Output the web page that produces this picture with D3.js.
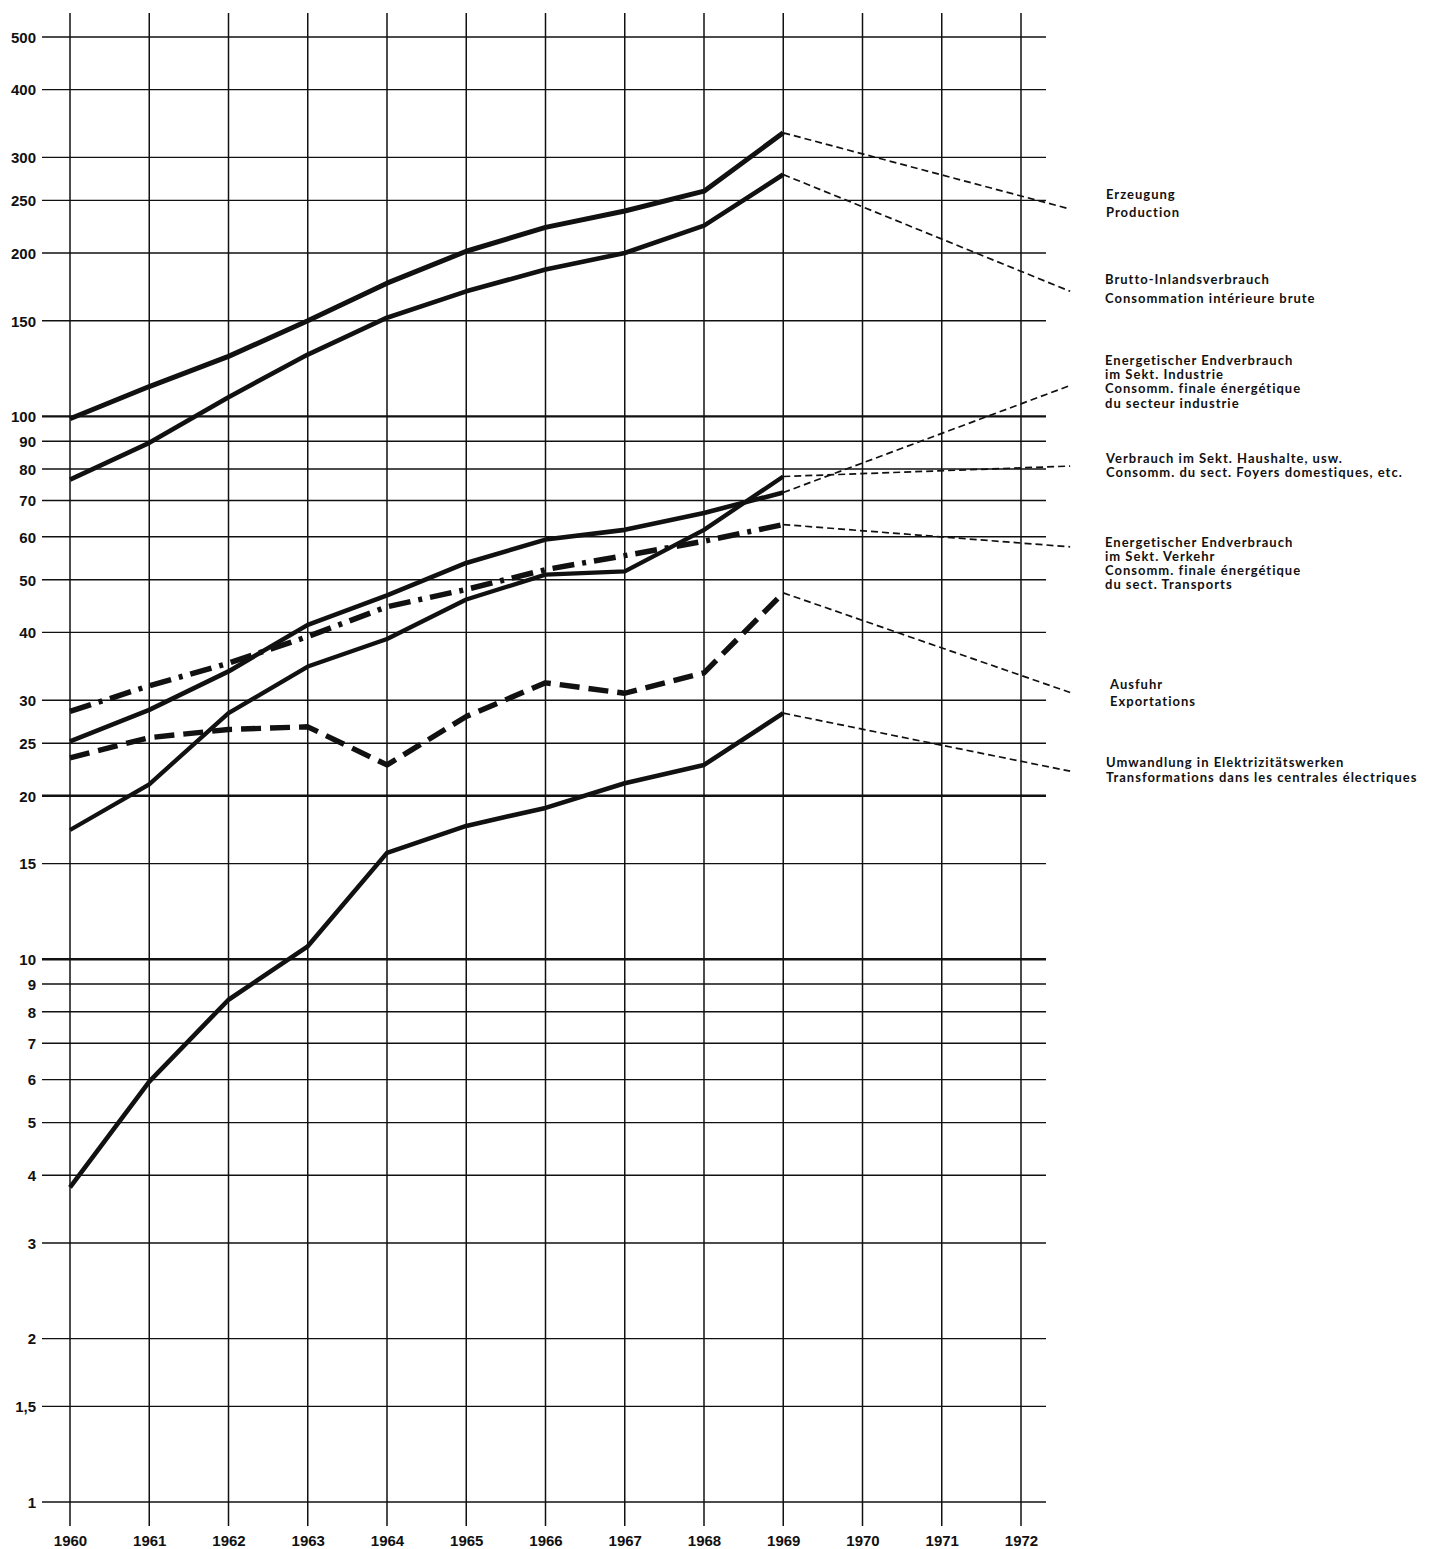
<!DOCTYPE html>
<html>
<head>
<meta charset="utf-8">
<script src="https://cdnjs.cloudflare.com/ajax/libs/d3/7.8.5/d3.min.js"></script>
<style>
  html, body { margin: 0; padding: 0; background: #fff; }
  svg { display: block; }
</style>
</head>
<body>
<svg id="chart" width="1432" height="1549"></svg>
<script>
// ---------------- DATA ----------------
const years = [1960, 1961, 1962, 1963, 1964, 1965, 1966, 1967, 1968, 1969];
const axisYears = [1960, 1961, 1962, 1963, 1964, 1965, 1966, 1967, 1968, 1969, 1970, 1971, 1972];
const yTicks = [1, 1.5, 2, 3, 4, 5, 6, 7, 8, 9, 10, 15, 20, 25, 30, 40, 50, 60, 70, 80, 90, 100, 150, 200, 250, 300, 400, 500];
const yTickLabels = ["1", "1,5", "2", "3", "4", "5", "6", "7", "8", "9", "10", "15", "20", "25", "30", "40", "50", "60", "70", "80", "90", "100", "150", "200", "250", "300", "400", "500"];

const production   = [99, 113.5, 129, 150, 176, 201.5, 223, 239, 260, 333];
const bruttoInland = [76.5, 89.4, 108.5, 130, 152, 170, 186.5, 200, 224.6, 279];
const industrie    = [25.2, 28.8, 33.9, 41.3, 46.8, 53.7, 59.3, 61.8, 66.4, 72.4];
const haushalte    = [17.3, 21.0, 28.4, 34.6, 38.9, 46.0, 51.1, 51.8, 61.8, 77.5];
const verkehr      = [28.6, 31.9, 35.1, 39.3, 44.6, 48.0, 52.2, 55.4, 58.9, 63.2];
const ausfuhr      = [23.5, 25.6, 26.5, 26.8, 22.8, 28.0, 32.3, 30.9, 33.7, 47.3];
const umwandlung   = [3.8, 5.95, 8.42, 10.56, 15.7, 17.6, 19.0, 21.1, 22.8, 28.4];

// projection (dashed) from 1969 to the right edge
const projectionEndYear = 1972.62;
const projectionEnd = [241, 170, 114, 81, 57.5, 31, 22.2];

const seriesNames = ["production", "bruttoInland", "industrie", "haushalte", "verkehr", "ausfuhr", "umwandlung"];
const seriesValues = [production, bruttoInland, industrie, haushalte, verkehr, ausfuhr, umwandlung];
const legendTexts = [
  ["Erzeugung", "Production"],
  ["Brutto-Inlandsverbrauch", "Consommation intérieure brute"],
  ["Energetischer Endverbrauch", "im Sekt. Industrie", "Consomm. finale énergétique", "du secteur industrie"],
  ["Verbrauch im Sekt. Haushalte, usw.", "Consomm. du sect. Foyers domestiques, etc."],
  ["Energetischer Endverbrauch", "im Sekt. Verkehr", "Consomm. finale énergétique", "du sect. Transports"],
  ["Ausfuhr", "Exportations"],
  ["Umwandlung in Elektrizitätswerken", "Transformations dans les centrales électriques"]
];

// ---------------- LAYOUT / STYLE ----------------
const styles = {
  production:   { width: 5, dash: null },
  bruttoInland: { width: 4.6, dash: null },
  industrie:    { width: 4.6, dash: null },
  haushalte:    { width: 4.3, dash: null },
  verkehr:      { width: 5.5, dash: "22,8,4,8" },
  ausfuhr:      { width: 5.4, dash: "20,9" },
  umwandlung:   { width: 4.6, dash: null }
};
const legendLayout = [
  { x: 1106, y: 199, lh: 18 },
  { x: 1105, y: 284, lh: 19 },
  { x: 1105, y: 365, lh: 14.2 },
  { x: 1106, y: 463, lh: 14 },
  { x: 1105, y: 547, lh: 14 },
  { x: 1110, y: 689, lh: 16.5 },
  { x: 1106, y: 767, lh: 15 }
];

const svg = d3.select("#chart");
const x = d3.scaleLinear().domain([1960, 1972]).range([70, 1021]);
const y = d3.scaleLog().domain([1, 500]).range([1502, 37]);

const ink = "#111";

// grid - horizontal
const gridH = svg.append("g");
gridH.selectAll("line").data(yTicks).join("line")
  .attr("x1", 42).attr("x2", 1046)
  .attr("y1", d => y(d)).attr("y2", d => y(d))
  .attr("stroke", ink)
  .attr("stroke-width", d => (d === 10 || d === 20 || d === 100) ? 2.4 : 1.4);

// grid - vertical
const gridV = svg.append("g");
gridV.selectAll("line").data(axisYears).join("line")
  .attr("x1", d => x(d)).attr("x2", d => x(d))
  .attr("y1", 13).attr("y2", 1526)
  .attr("stroke", ink).attr("stroke-width", 1.5);

// y axis labels
const yAxis = d3.axisLeft(y).tickValues(yTicks).tickSize(0).tickPadding(0)
  .tickFormat((d, i) => yTickLabels[i]);
const gy = svg.append("g").attr("transform", "translate(36,0)").call(yAxis);
gy.select(".domain").remove();
gy.selectAll("text")
  .attr("font-family", "'Liberation Sans', Arial, sans-serif")
  .attr("font-weight", "bold").attr("font-size", 15)
  .attr("fill", ink).attr("dy", "0.35em").attr("x", 0);

// x axis labels
const xAxis = d3.axisBottom(x).tickValues(axisYears).tickSize(0).tickPadding(0)
  .tickFormat(d3.format("d"));
const gx = svg.append("g").attr("transform", "translate(0,1535)").call(xAxis);
gx.select(".domain").remove();
gx.selectAll("text")
  .attr("font-family", "'Liberation Sans', Arial, sans-serif")
  .attr("font-weight", "bold").attr("font-size", 15)
  .attr("fill", ink).attr("dy", "0.71em").attr("y", 0);

// series lines
const line = d3.line().x(d => x(d[0])).y(d => y(d[1]));
const gSeries = svg.append("g");
seriesNames.forEach((name, i) => {
  const vals = seriesValues[i];
  const pts = years.map((yr, j) => [yr, vals[j]]);
  const st = styles[name];
  // projection
  gSeries.append("path")
    .attr("d", line([[1969, vals[vals.length - 1]], [projectionEndYear, projectionEnd[i]]]))
    .attr("fill", "none").attr("stroke", ink)
    .attr("stroke-width", 1.7).attr("stroke-dasharray", "7,4");
  // historical
  gSeries.append("path")
    .attr("d", line(pts))
    .attr("fill", "none").attr("stroke", ink)
    .attr("stroke-width", st.width)
    .attr("stroke-linejoin", "round")
    .attr("stroke-dasharray", st.dash);
});

// legend labels
const gLegend = svg.append("g")
  .attr("font-family", "Lato, 'Open Sans', sans-serif")
  .attr("font-weight", "bold").attr("font-size", 13)
  .attr("letter-spacing", "1px").attr("fill", ink);
legendTexts.forEach((lines, i) => {
  const L = legendLayout[i];
  lines.forEach((t, k) => {
    gLegend.append("text").attr("x", L.x).attr("y", L.y + k * L.lh).text(t);
  });
});
</script>
</body>
</html>
